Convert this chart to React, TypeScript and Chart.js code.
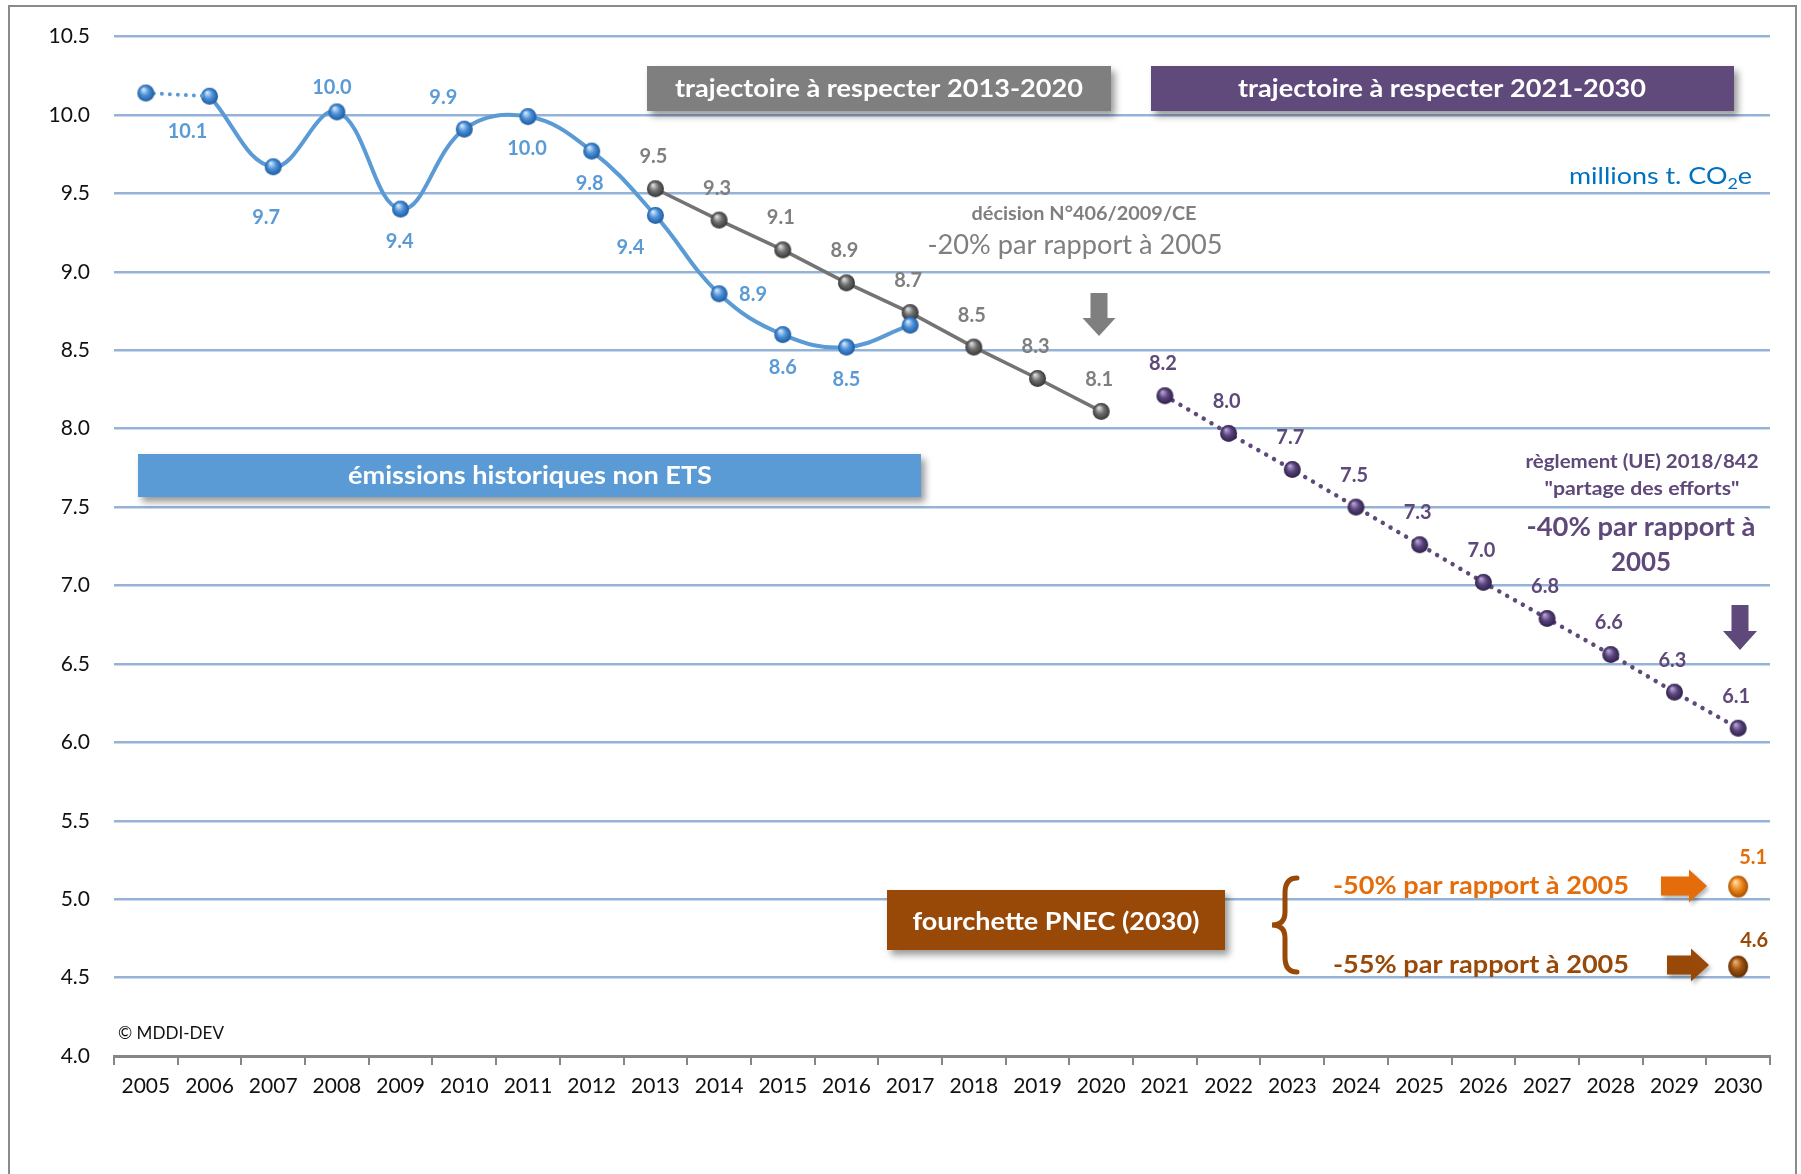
import React, { useEffect, useRef } from "react";
import { Chart, registerables } from "chart.js";

Chart.register(...registerables);

// ---------- DATA ----------
const years = [
  "2005", "2006", "2007", "2008", "2009", "2010", "2011", "2012", "2013",
  "2014", "2015", "2016", "2017", "2018", "2019", "2020", "2021", "2022",
  "2023", "2024", "2025", "2026", "2027", "2028", "2029", "2030",
];
// émissions historiques non ETS, 2005 -> 2017
const historical = [10.14, 10.12, 9.67, 10.02, 9.4, 9.91, 9.99, 9.77, 9.36, 8.86, 8.6, 8.52, 8.66];
// trajectoire 2013 -> 2020
const trajectory2013 = [9.53, 9.33, 9.14, 8.93, 8.74, 8.52, 8.32, 8.11];
// trajectoire 2021 -> 2030
const trajectory2021 = [8.21, 7.97, 7.74, 7.5, 7.26, 7.02, 6.79, 6.56, 6.32, 6.09];
// fourchette PNEC 2030
const pnecHigh = [5.08];
const pnecLow = [4.57];
const yTickValues = [4.0, 4.5, 5.0, 5.5, 6.0, 6.5, 7.0, 7.5, 8.0, 8.5, 9.0, 9.5, 10.0, 10.5];

// ---------- STYLE ----------
const FONT = "Lato, 'Liberation Sans', Arial, sans-serif";
const BLUE = "#5B9BD5";
const GRAY = "#747474";
const PURPLE = "#5F497A";
const ORANGE = "#E46C0A";
const BROWN = "#984807";

// label offsets (px) for the historical series, indexed like `historical`
const histLabelOffsets: (number[] | null)[] = [
  null, [-22, 35], [-7, 51], [-5, -24], [-1, 32], [-21, -32], [-1, 32],
  [-2, 32], [-25, 32], [34, 1], [0, 33], [0, 32], null,
];

function pad(start: number, values: number[]): (number | null)[] {
  const out: (number | null)[] = years.map(() => null);
  values.forEach((v, i) => (out[start + i] = v));
  return out;
}

function sphere(r: number, light: string, base: string, dark: string, ry?: number) {
  const c = document.createElement("canvas");
  const rv = ry ?? r;
  c.width = Math.ceil(r * 2 + 2);
  c.height = Math.ceil(rv * 2 + 2);
  const g = c.getContext("2d")!;
  const cx = c.width / 2;
  const cy = c.height / 2;
  g.save();
  g.translate(cx, cy);
  g.scale(1, rv / r);
  const grad = g.createRadialGradient(-r * 0.3, -r * 0.45, r * 0.05, 0, 0, r);
  grad.addColorStop(0, light);
  grad.addColorStop(0.5, base);
  grad.addColorStop(1, dark);
  g.fillStyle = grad;
  g.beginPath();
  g.arc(0, 0, r, 0, Math.PI * 2);
  g.fill();
  g.restore();
  return c;
}

function fitText(
  ctx: CanvasRenderingContext2D, text: string, x: number, y: number, size: number,
  weight: string, color: string, targetW?: number, align: CanvasTextAlign = "center"
) {
  ctx.save();
  ctx.font = `${weight} ${size}px ${FONT}`;
  const w = ctx.measureText(text).width;
  const sx = targetW ? targetW / w : 1;
  ctx.translate(x, y);
  ctx.scale(sx, 1);
  ctx.fillStyle = color;
  ctx.textAlign = align;
  ctx.textBaseline = "middle";
  ctx.fillText(text, 0, 0);
  ctx.restore();
}

function box(ctx: CanvasRenderingContext2D, x1: number, y1: number, x2: number, y2: number, color: string) {
  ctx.save();
  ctx.shadowColor = "rgba(0,0,0,0.4)";
  ctx.shadowBlur = 7;
  ctx.shadowOffsetX = 4;
  ctx.shadowOffsetY = 5;
  ctx.fillStyle = color;
  ctx.fillRect(x1, y1, x2 - x1, y2 - y1);
  ctx.restore();
}

function downArrow(ctx: CanvasRenderingContext2D, cx: number, top: number, bottom: number, shaftW: number, headW: number, headLen: number, color: string) {
  ctx.save();
  ctx.fillStyle = color;
  ctx.beginPath();
  ctx.moveTo(cx - shaftW / 2, top);
  ctx.lineTo(cx + shaftW / 2, top);
  ctx.lineTo(cx + shaftW / 2, bottom - headLen);
  ctx.lineTo(cx + headW / 2, bottom - headLen);
  ctx.lineTo(cx, bottom);
  ctx.lineTo(cx - headW / 2, bottom - headLen);
  ctx.lineTo(cx - shaftW / 2, bottom - headLen);
  ctx.closePath();
  ctx.fill();
  ctx.restore();
}

function rightArrow(ctx: CanvasRenderingContext2D, left: number, right: number, cy: number, shaftH: number, headH: number, headLen: number, color: string) {
  ctx.save();
  ctx.shadowColor = "rgba(0,0,0,0.3)";
  ctx.shadowBlur = 4;
  ctx.shadowOffsetX = 2;
  ctx.shadowOffsetY = 3;
  ctx.fillStyle = color;
  ctx.beginPath();
  ctx.moveTo(left, cy - shaftH / 2);
  ctx.lineTo(right - headLen, cy - shaftH / 2);
  ctx.lineTo(right - headLen, cy - headH / 2);
  ctx.lineTo(right, cy);
  ctx.lineTo(right - headLen, cy + headH / 2);
  ctx.lineTo(right - headLen, cy + shaftH / 2);
  ctx.lineTo(left, cy + shaftH / 2);
  ctx.closePath();
  ctx.fill();
  ctx.restore();
}

const decorPlugin = {
  id: "decor",
  beforeDraw(chart: any) {
    const ctx: CanvasRenderingContext2D = chart.ctx;
    ctx.save();
    ctx.fillStyle = "#ffffff";
    ctx.fillRect(0, 0, chart.width, chart.height);
    ctx.strokeStyle = "#8a8a8a";
    ctx.lineWidth = 2;
    ctx.strokeRect(9, 6, 1787, 1300);
    ctx.restore();
  },
  afterDraw(chart: any) {
    const ctx: CanvasRenderingContext2D = chart.ctx;

    // ---- boxes ----
    box(ctx, 647, 66, 1111, 111, "#7F7F7F");
    fitText(ctx, "trajectoire à respecter 2013-2020", 879, 89, 25, "bold", "#ffffff", 408);
    box(ctx, 1151, 66, 1734, 111, "#604A7B");
    fitText(ctx, "trajectoire à respecter 2021-2030", 1442, 89, 25, "bold", "#ffffff", 408);
    box(ctx, 138, 454, 921, 497, "#5B9BD5");
    fitText(ctx, "émissions historiques non ETS", 530, 476, 25, "bold", "#ffffff", 364);
    box(ctx, 887, 890, 1225, 950, BROWN);
    fitText(ctx, "fourchette PNEC (2030)", 1056, 922, 25, "bold", "#ffffff", 287);

    // ---- unit ----
    {
      ctx.save();
      const right = 1752;
      const target = 183;
      const cy = 176;
      ctx.font = `normal 24px ${FONT}`;
      const w1 = ctx.measureText("millions t. CO").width;
      const w3 = ctx.measureText("e").width;
      ctx.font = `normal 16px ${FONT}`;
      const w2 = ctx.measureText("2").width;
      const sx = target / (w1 + w2 + w3);
      ctx.translate(right - target, cy);
      ctx.scale(sx, 1);
      ctx.fillStyle = "#0070C0";
      ctx.textBaseline = "middle";
      ctx.textAlign = "left";
      ctx.font = `normal 24px ${FONT}`;
      ctx.fillText("millions t. CO", 0, 0);
      ctx.font = `normal 16px ${FONT}`;
      ctx.fillText("2", w1, 8);
      ctx.font = `normal 24px ${FONT}`;
      ctx.fillText("e", w1 + w2, 0);
      ctx.restore();
    }

    // ---- 2013-2020 annotation ----
    fitText(ctx, "décision N°406/2009/CE", 1084, 214, 18, "bold", "#7F7F7F", 225);
    fitText(ctx, "-20% par rapport à 2005", 1075, 246, 26, "normal", "#7F7F7F", 295);
    downArrow(ctx, 1099, 293, 336, 17, 33, 18, "#7F7F7F");

    // ---- 2021-2030 annotation ----
    fitText(ctx, "règlement (UE) 2018/842", 1642, 462, 18, "bold", PURPLE, 233);
    fitText(ctx, "\"partage des efforts\"", 1642, 489, 18, "bold", PURPLE, 195);
    fitText(ctx, "-40% par rapport à", 1641, 528, 26, "bold", PURPLE, 229);
    fitText(ctx, "2005", 1641, 563, 26, "bold", PURPLE, 60);
    downArrow(ctx, 1740, 605, 650, 17, 34, 19, PURPLE);

    // ---- PNEC annotation ----
    ctx.save();
    ctx.strokeStyle = BROWN;
    ctx.lineWidth = 5;
    ctx.lineCap = "round";
    ctx.beginPath();
    ctx.moveTo(1297, 878);
    ctx.quadraticCurveTo(1285, 878, 1285, 893);
    ctx.lineTo(1285, 912);
    ctx.quadraticCurveTo(1285, 925, 1272, 925);
    ctx.quadraticCurveTo(1285, 925, 1285, 938);
    ctx.lineTo(1285, 957);
    ctx.quadraticCurveTo(1285, 972, 1297, 972);
    ctx.stroke();
    ctx.restore();
    fitText(ctx, "-50% par rapport à 2005", 1481, 886, 25, "bold", ORANGE, 296);
    fitText(ctx, "-55% par rapport à 2005", 1481, 965, 25, "bold", BROWN, 296);
    rightArrow(ctx, 1661, 1707, 886, 19, 33, 18, ORANGE);
    rightArrow(ctx, 1667, 1709, 965, 19, 33, 18, BROWN);

    fitText(ctx, "© MDDI-DEV", 118, 1034, 17, "normal", "#111111", 106, "left");

    // ---- data labels ----
    ctx.save();
    ctx.textAlign = "center";
    ctx.textBaseline = "middle";
    ctx.font = `bold 20px ${FONT}`;
    const histMeta = chart.getDatasetMeta(1);
    historical.forEach((v, i) => {
      const off = histLabelOffsets[i];
      const el = histMeta.data[i];
      if (!off || !el) return;
      ctx.fillStyle = BLUE;
      ctx.fillText(v.toFixed(1), el.x + off[0], el.y + off[1]);
    });
    const grayMeta = chart.getDatasetMeta(2);
    trajectory2013.forEach((v, i) => {
      const el = grayMeta.data[8 + i];
      ctx.fillStyle = "#7F7F7F";
      ctx.fillText(v.toFixed(1), el.x - 2, el.y - 32);
    });
    const purpleMeta = chart.getDatasetMeta(3);
    trajectory2021.forEach((v, i) => {
      const el = purpleMeta.data[16 + i];
      ctx.fillStyle = PURPLE;
      ctx.fillText(v.toFixed(1), el.x - 2, el.y - 32);
    });
    const hiEl = chart.getDatasetMeta(4).data[25];
    ctx.fillStyle = ORANGE;
    ctx.fillText(pnecHigh[0].toFixed(1), hiEl.x + 15, hiEl.y - 29);
    const loEl = chart.getDatasetMeta(5).data[25];
    ctx.fillStyle = BROWN;
    ctx.fillText(pnecLow[0].toFixed(1), loEl.x + 16, loEl.y - 26);
    ctx.restore();
  },
};

export default function App() {
  const canvasRef = useRef<HTMLCanvasElement | null>(null);

  useEffect(() => {
    const canvas = canvasRef.current;
    if (!canvas) return;
    const blueBall = sphere(8.5, "#D6E9FA", "#4A90D9", "#1F5A9C");
    const grayBall = sphere(8.5, "#E0E0E0", "#6E6E6E", "#363636");
    const purpleBall = sphere(8.5, "#B9A6D6", "#5A447E", "#2F2048");
    const orangeBall = sphere(10, "#FFE0B0", "#F08A1C", "#A84E00", 11);
    const brownBall = sphere(10, "#E9B27A", "#A4550F", "#5F2E03", 11);

    const chart = new Chart(canvas, {
      type: "line",
      data: {
        labels: years,
        datasets: [
          {
            label: "hist-dotted",
            data: pad(0, historical.slice(0, 2)),
            borderColor: BLUE,
            borderWidth: 4,
            borderDash: [0.01, 8],
            borderCapStyle: "round",
            tension: 0,
            pointStyle: blueBall as any,
            pointRadius: (c: any) => (c.dataIndex === 0 ? 9 : 0),
            spanGaps: false,
          },
          {
            label: "émissions historiques non ETS",
            data: pad(1, historical.slice(1)),
            borderColor: BLUE,
            borderWidth: 4,
            tension: 0.4,
            pointStyle: blueBall as any,
            pointRadius: 9,
          },
          {
            label: "trajectoire 2013-2020",
            data: pad(8, trajectory2013),
            borderColor: GRAY,
            borderWidth: 3.5,
            tension: 0,
            pointStyle: grayBall as any,
            pointRadius: 9,
          },
          {
            label: "trajectoire 2021-2030",
            data: pad(16, trajectory2021),
            borderColor: PURPLE,
            borderWidth: 4.5,
            borderDash: [0.01, 9],
            borderCapStyle: "round",
            tension: 0,
            pointStyle: purpleBall as any,
            pointRadius: 9,
          },
          {
            label: "PNEC -50%",
            data: pad(25, pnecHigh),
            showLine: false,
            pointStyle: orangeBall as any,
            pointRadius: 10,
          },
          {
            label: "PNEC -55%",
            data: pad(25, pnecLow),
            showLine: false,
            pointStyle: brownBall as any,
            pointRadius: 10,
          },
        ],
      },
      options: {
        responsive: false,
        animation: false,
        events: [],
        layout: { padding: { left: 10, right: 31, top: 36, bottom: 0 } },
        plugins: {
          legend: { display: false },
          tooltip: { enabled: false },
        },
        scales: {
          x: {
            type: "category",
            offset: true,
            grid: {
              offset: true,
              drawOnChartArea: false,
              drawTicks: true,
              tickLength: 9,
              color: "#868686",
              lineWidth: 2,
            },
            border: { display: true, color: "#868686", width: 3 },
            ticks: {
              color: "#111111",
              font: { family: FONT, size: 21 },
              padding: 9,
              maxRotation: 0,
              autoSkip: false,
            },
            afterFit: (s: any) => {
              s.height = 118;
            },
          },
          y: {
            min: 4,
            max: 10.5,
            afterBuildTicks: (axis: any) => {
              axis.ticks = yTickValues.map((v) => ({ value: v }));
            },
            grid: { color: "#95B3D7", lineWidth: 2.5, drawTicks: false },
            border: { display: false },
            ticks: {
              color: "#111111",
              font: { family: FONT, size: 21 },
              padding: 24,
              callback: (v: any) => Number(v).toFixed(1),
            },
            afterFit: (s: any) => {
              s.width = 104;
            },
          },
        },
      },
      plugins: [decorPlugin],
    });
    return () => chart.destroy();
  }, []);

  return (
    <div style={{ position: "fixed", left: 0, top: 0, width: 1801, height: 1174, background: "#fff" }}>
      <canvas ref={canvasRef} width={1801} height={1174} style={{ display: "block" }} />
    </div>
  );
}
